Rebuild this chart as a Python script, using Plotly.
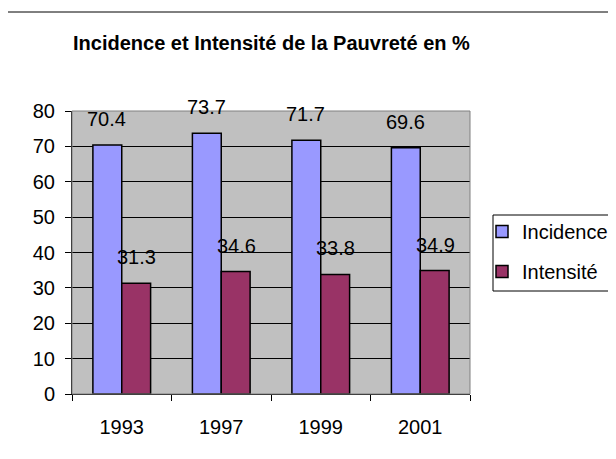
import plotly.graph_objects as go

years = ["1993", "1997", "1999", "2001"]
incidence = [70.4, 73.7, 71.7, 69.6]
intensite = [31.3, 34.6, 33.8, 34.9]
y_ticks = [0, 10, 20, 30, 40, 50, 60, 70, 80]

FONT = "Liberation Sans, Arial, sans-serif"
FS = 20
OFF = 8  # page body margin
W, H = 608, 451
L, R, T, B = 64, 146, 103, 65
PW, PH = W - L - R, H - T - B

def px_x(p):
    return (p - OFF - L) / PW

def px_y(p):
    return (H - B - (p - OFF)) / PH

fig = go.Figure()
fig.add_bar(name="Incidence", x=years, y=incidence, marker=dict(color="#9999FF", line=dict(color="black", width=1.5)),
            legendgroup="a")
fig.add_bar(name="Intensité", x=years, y=intensite, marker=dict(color="#993366", line=dict(color="black", width=1.5)),
            legendgroup="b")

annotations = []
for i, v in enumerate(incidence):
    annotations.append(dict(x=i, y=v, xref="x", yref="y", text=f"{v}", showarrow=False,
                            xshift=-15, yshift=26, font=dict(family=FONT, size=FS, color="black")))
for i, v in enumerate(intensite):
    annotations.append(dict(x=i, y=v, xref="x", yref="y", text=f"{v}", showarrow=False,
                            xshift=15, yshift=26, font=dict(family=FONT, size=FS, color="black")))

annotations.append(dict(x=px_x(271), y=px_y(43), xref="paper", yref="paper", xanchor="center", yanchor="middle",
                        text="<b>Incidence et Intensité de la Pauvreté en %</b>", showarrow=False,
                        font=dict(family=FONT, size=FS, color="black")))

shapes = [
    dict(type="rect", xref="paper", yref="paper", x0=px_x(7), x1=px_x(640), y0=px_y(12), y1=px_y(480),
         line=dict(color="black", width=1), layer="below"),
    dict(type="rect", xref="paper", yref="paper", x0=px_x(493), x1=px_x(640), y0=px_y(215), y1=px_y(291),
         line=dict(color="black", width=1), layer="below"),
    dict(type="rect", xref="paper", yref="paper", x0=0, x1=1, y0=0, y1=1,
         line=dict(color="#808080", width=1), layer="above"),
]

fig.update_layout(
    width=W, height=H,
    margin=dict(l=L, r=R, t=T, b=B, autoexpand=False),
    paper_bgcolor="white", plot_bgcolor="#C0C0C0",
    barmode="group", bargap=0.42, bargroupgap=0,
    font=dict(family=FONT, size=FS, color="black"),
    showlegend=True,
    legend=dict(x=px_x(482), y=px_y(212), xanchor="left", yanchor="top",
                borderwidth=0, bgcolor="rgba(0,0,0,0)",
                font=dict(family=FONT, size=FS), tracegroupgap=11, itemwidth=30),
    annotations=annotations, shapes=shapes,
)
fig.update_xaxes(type="category", range=[-0.5, 3.5], tickson="boundaries", ticks="outside", ticklen=6, tickcolor="black",
                 showline=True, linecolor="black", linewidth=1, showgrid=False, automargin=False,
                 ticklabelstandoff=15, tickfont=dict(family=FONT, size=FS))
fig.update_yaxes(range=[0, 80], tickvals=y_ticks, ticks="outside", ticklen=6, tickcolor="black",
                 showline=True, linecolor="black", linewidth=1, showgrid=True, gridcolor="black", gridwidth=1,
                 zeroline=False, automargin=False, ticklabelstandoff=6, tickfont=dict(family=FONT, size=FS))

fig.write_html("out.html")
